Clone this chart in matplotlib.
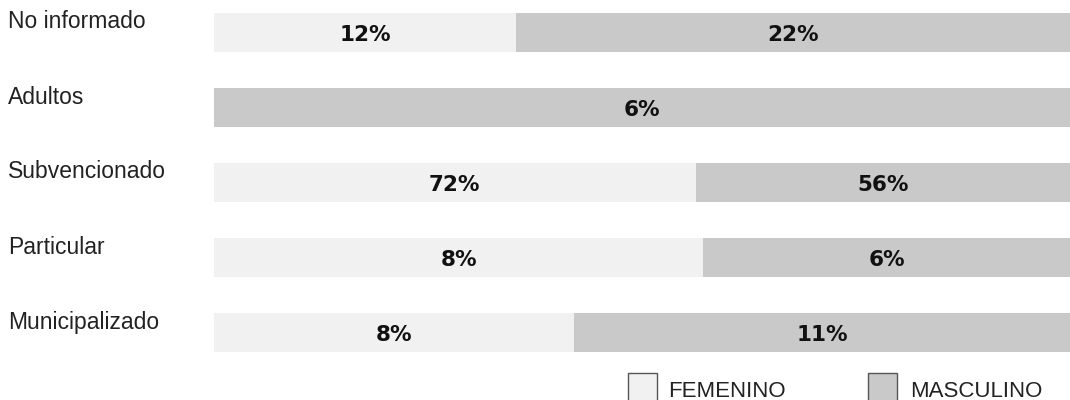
import numpy as np
import matplotlib.pyplot as plt
from matplotlib.patches import Rectangle
import matplotlib.transforms as mtransforms

# data
categorias = ["No informado", "Adultos", "Subvencionado", "Particular", "Municipalizado"]
femenino = [12, 0, 72, 8, 8]
masculino = [22, 6, 56, 6, 11]
series = ["FEMENINO", "MASCULINO"]

col_fem = "#f1f1f1"
col_mas = "#c9c9c9"

fem = np.array(femenino, dtype=float)
mas = np.array(masculino, dtype=float)
total = fem + mas
fem_share = fem / total
mas_share = mas / total

W, H = 1070, 400
fig = plt.figure(figsize=(W / 100, H / 100), dpi=100)
# rows sit ~75 px apart, first centre at y=32 px
ax = fig.add_axes([214 / W, (H - 370) / H, 856 / W, 375 / H])

y = np.arange(len(categorias))
ax.barh(y, fem_share, height=0.53, color=col_fem)
ax.barh(y, mas_share, left=fem_share, height=0.53, color=col_mas)

pct_font = dict(fontsize=15.5, fontweight="bold", family="DejaVu Sans", color="#111111",
                ha="center", va="center")
for i in range(len(categorias)):
    if fem[i] > 0:
        ax.text(fem_share[i] / 2, i + 0.03, f"{femenino[i]}%", **pct_font)
    if mas[i] > 0:
        ax.text(fem_share[i] + mas_share[i] / 2, i + 0.03, f"{masculino[i]}%", **pct_font)

# category names on the left, a bit above the bar centre
trans = mtransforms.blended_transform_factory(fig.transFigure, ax.transData)
for i, cat in enumerate(categorias):
    ax.text(8 / W, i - 0.14, cat, transform=trans, ha="left", va="center",
            fontsize=16.5, family="Liberation Sans", color="#222222")

ax.set_xlim(0, 1)
ax.set_ylim(len(categorias) - 0.5, -0.5)
ax.axis("off")

# legend drawn by hand at the bottom right
for x0, col, name, tx in [(628, col_fem, series[0], 668), (868, col_mas, series[1], 910)]:
    fig.add_artist(Rectangle((x0 / W, -4 / H), 29 / W, 31 / H, transform=fig.transFigure,
                             facecolor=col, edgecolor="#555555", linewidth=1.0))
    fig.text(tx / W, 3 / H, name, ha="left", va="baseline", fontsize=16,
             family="Liberation Sans", color="#222222")

fig.savefig("out.png", dpi=100)
